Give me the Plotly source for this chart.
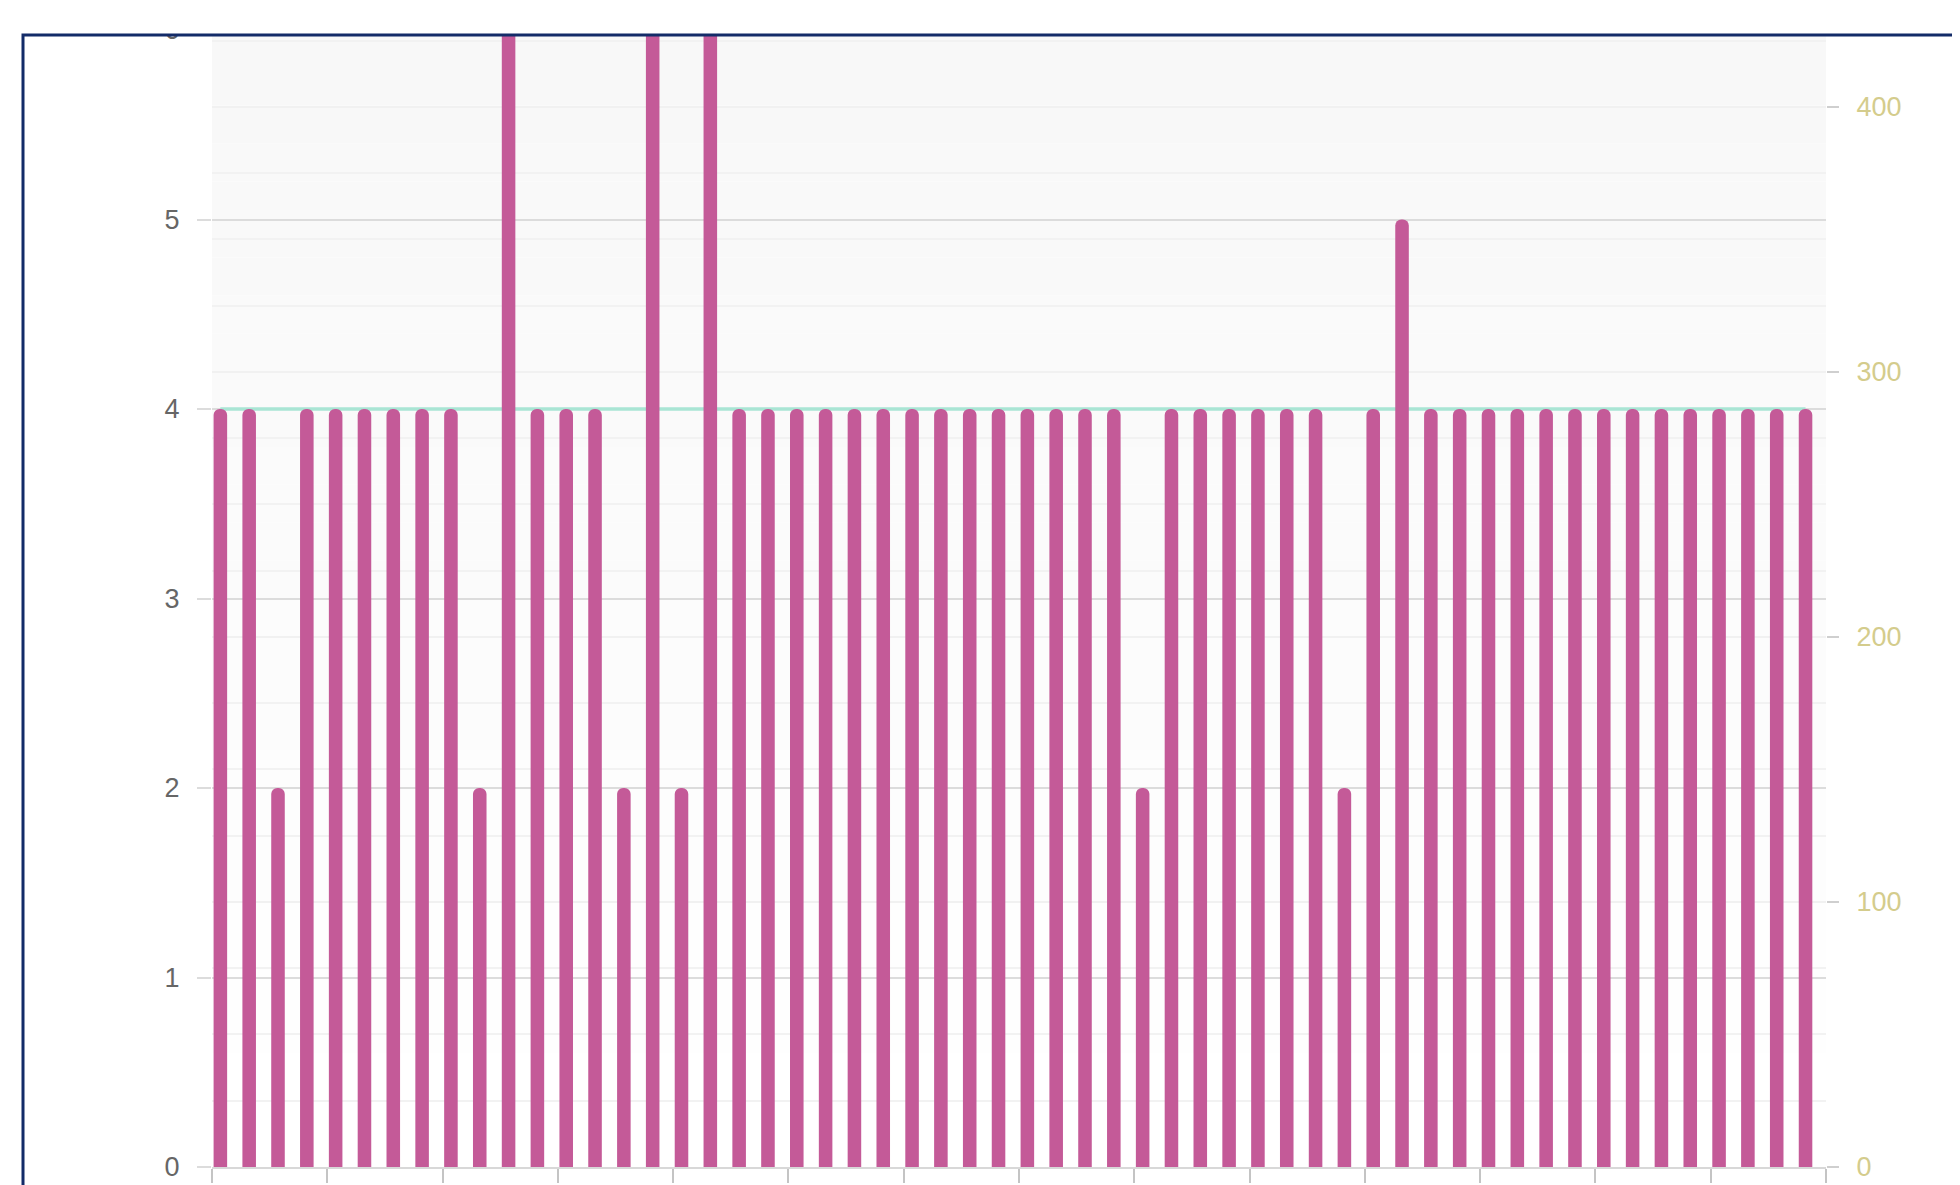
import plotly.graph_objects as go

# ---------------- data ----------------
days = list(range(1, 57))
counts = [4, 4, 2, 4, 4, 4, 4, 4, 4, 2,
          7, 4, 4, 4, 2, 7, 2, 7, 4, 4,
          4, 4, 4, 4, 4, 4, 4, 4, 4, 4,
          4, 4, 2, 4, 4, 4, 4, 4, 4, 2,
          4, 5, 4, 4, 4, 4, 4, 4, 4, 4,
          4, 4, 4, 4, 4, 4]
target = [4, 4, 4, 4, 4, 4, 4, 4, 4, 4,
          4, 4, 4, 4, 4, 4, 4, 4, 4, 4,
          4, 4, 4, 4, 4, 4, 4, 4, 4, 4,
          4, 4, 4, 4, 4, 4, 4, 4, 4, 4,
          4, 4, 4, 4, 4, 4, 4, 4, 4, 4,
          4, 4, 4, 4, 4, 4]
left_ticks = [0, 1, 2, 3, 4, 5, 6]
right_ticks = [0, 100, 200, 300, 400]

# ---------------- geometry (page has an 8px body margin) ----------------
OFF = 8
W, H = 1960 - OFF, 1185 - OFF
L, T = 212 - OFF, 30 - OFF
R = (1960 - OFF) - (1826 - OFF)
B = (1185 - OFF) - (1167 - OFF)
pw, ph = W - L - R, H - T - B


def px_x(p):  # page pixel -> paper
    return (p - OFF - L) / pw


def px_y(p):
    return (H - B - (p - OFF)) / ph


fig = go.Figure()

fig.add_trace(go.Scatter(
    x=days, y=target, mode="lines", yaxis="y",
    line=dict(color="#a9e5d4", width=3.5),
    hoverinfo="skip", showlegend=False))

fig.add_trace(go.Scatter(
    x=[None], y=[None], yaxis="y2", mode="lines",
    hoverinfo="skip", showlegend=False))

fig.add_trace(go.Bar(
    x=days, y=counts, yaxis="y3", width=0.47,
    marker=dict(color="#c45a98", cornerradius=7, line=dict(width=0)),
    showlegend=False))

# background gradient bands
shapes = []
n_bands = 30
for i in range(n_bands):
    f = i / (n_bands - 1)  # 0 bottom -> 1 top
    v = round(255 - 7 * f)
    shapes.append(dict(
        type="rect", xref="x domain", yref="y domain",
        x0=0, x1=1, y0=i / n_bands, y1=(i + 1) / n_bands,
        fillcolor=f"rgb({v},{v},{v})", line=dict(width=0), layer="below"))

# white cover above the frame and the frame itself
shapes.append(dict(
    type="rect", xref="paper", yref="paper",
    x0=px_x(-40), x1=px_x(2100), y0=px_y(34), y1=px_y(-40),
    fillcolor="white", line=dict(width=0), layer="above"))
shapes.append(dict(
    type="rect", xref="paper", yref="paper",
    x0=px_x(23), x1=px_x(2100), y0=px_y(1300), y1=px_y(35),
    fillcolor="rgba(0,0,0,0)", line=dict(color="#132b68", width=3),
    layer="above"))

fig.update_layout(
    width=W, height=H,
    margin=dict(l=L, r=R, t=T, b=B, autoexpand=False),
    paper_bgcolor="white", plot_bgcolor="white",
    showlegend=False,
    font=dict(family="Arial, Liberation Sans, sans-serif"),
    shapes=shapes,
    xaxis=dict(
        range=[0.71, 56.71], tick0=0.71, dtick=4,
        showgrid=False, zeroline=False,
        ticks="outside", ticklen=14, tickwidth=2, tickcolor="#c4c4c4",
        showticklabels=False, showline=True, linecolor="#d8d8d8",
        linewidth=2, automargin=False),
    yaxis=dict(
        range=[0, 6], tickvals=left_ticks,
        showgrid=True, gridcolor="#dcdcdc", gridwidth=2, zeroline=False,
        ticks="outside", ticklen=14, tickwidth=2, tickcolor="#dcdcdc",
        tickfont=dict(size=27, color="#666666"), ticklabelstandoff=12,
        automargin=False),
    yaxis2=dict(
        overlaying="y", side="right", range=[0, 429], tickvals=right_ticks,
        showgrid=True, gridcolor="#f1f1f1", gridwidth=2, zeroline=False,
        minor=dict(dtick=25, showgrid=True, gridcolor="#f2f2f2", gridwidth=2),
        ticks="outside", ticklen=12, tickwidth=2, tickcolor="#cfcfcf",
        tickfont=dict(size=27, color="#d4cc8c"), ticklabelstandoff=12,
        showline=False, automargin=False),
    yaxis3=dict(overlaying="y", range=[0, 6], visible=False),
)

fig.write_html("out.html")
